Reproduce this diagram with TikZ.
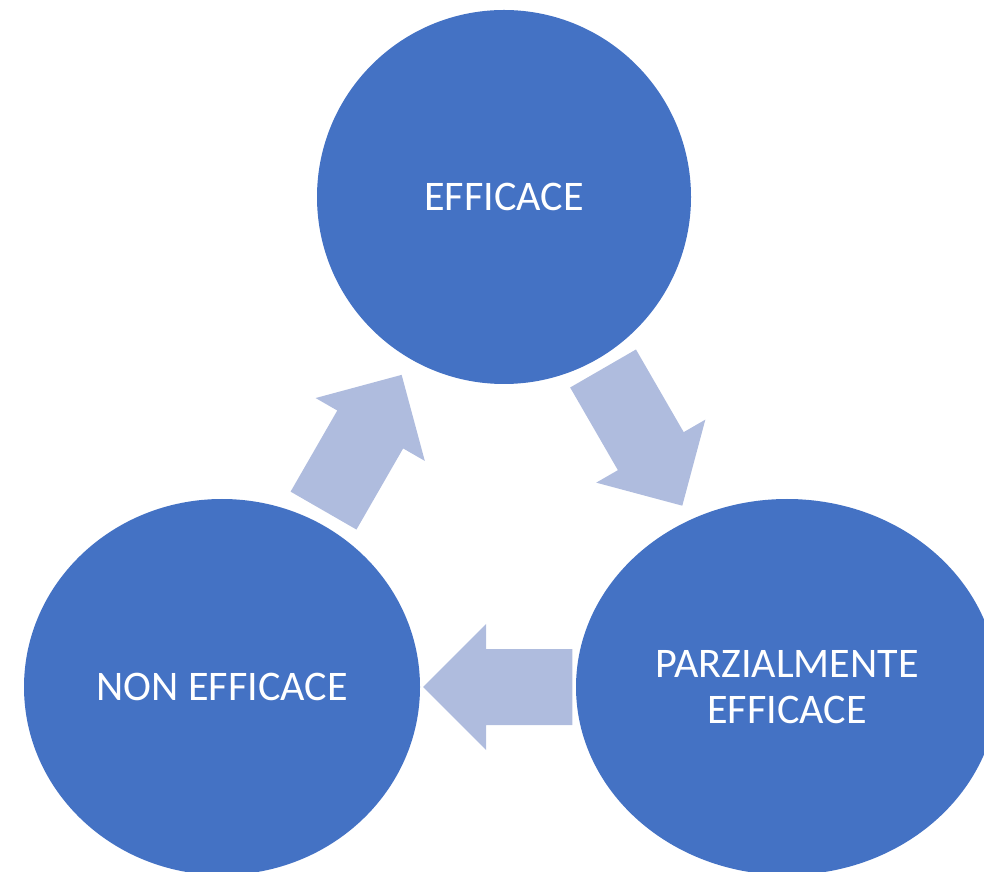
\documentclass[tikz,border=0pt]{standalone}
\usepackage{fontspec}
\setmainfont{Carlito}
\usetikzlibrary{shapes.geometric,calc}
\definecolor{cerchio}{HTML}{4472C4}
\definecolor{freccia}{HTML}{AFBCDE}
% block arrow between two nodes: from, to, start fraction, end fraction
\newcommand{\blockarrow}[4]{%
 \coordinate (tail) at ($(#1)!#3!(#2)$);
 \coordinate (tip) at ($(#1)!#4!(#2)$);
 \coordinate (neck) at ($(tip)!47.25pt!(tail)$);
 \fill[freccia] ($(tail)!28.5pt!90:(tip)$) -- ($(neck)!28.5pt!90:(tip)$) -- ($(neck)!47.25pt!90:(tip)$) -- (tip)
  -- ($(neck)!47.25pt!-90:(tip)$) -- ($(neck)!28.5pt!-90:(tip)$) -- ($(tail)!28.5pt!-90:(tip)$) -- cycle;}
\begin{document}
\begin{tikzpicture}[x=0.75pt,y=0.75pt,
 circ/.style={ellipse,fill=cerchio,text=white,inner sep=0pt,align=center,font=\fontsize{31.6}{35}\selectfont}]
 \useasboundingbox (0,0) rectangle (984,871);
 \clip (0,0) rectangle (984,871);
 \node[circ,minimum width=280.5pt,minimum height=280.5pt] (eff) at (504,674) {EFFICACE};
 \node[circ,minimum width=316.5pt,minimum height=282pt] (parz) at (787,184) {PARZIALMENTE\\EFFICACE};
 \node[circ,minimum width=297pt,minimum height=282pt] (non) at (222,184) {NON EFFICACE};
 \blockarrow{eff}{parz}{0.35}{0.63}
 \blockarrow{parz}{non}{0.38}{0.644}
 \blockarrow{non}{eff}{0.36}{0.637}
\end{tikzpicture}
\end{document}
